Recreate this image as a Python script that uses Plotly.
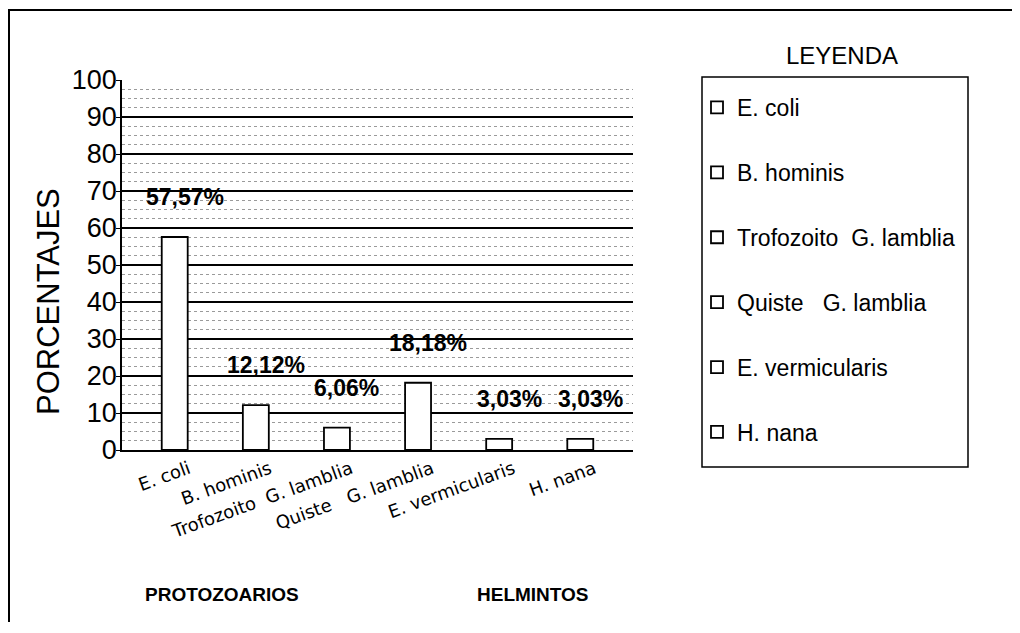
import plotly.graph_objects as go

categories = ["E. coli", "B. hominis", "Trofozoito  G. lamblia", "Quiste   G. lamblia", "E. vermicularis", "H. nana"]
tick_labels = ["E. coli", "B. hominis", "Trofozoito  G. lamblia", "Quiste   G. lamblia", "E. vermicularis", "H. nana"]
values = [57.57, 12.12, 6.06, 18.18, 3.03, 3.03]
y_ticks = [0, 10, 20, 30, 40, 50, 60, 70, 80, 90, 100]
group_labels = ["PROTOZOARIOS", "HELMINTOS"]

# page offset caused by the default body margin of the html page
OX, OY = 8, 8
W, H = 1020 - OX, 633 - OY
L = 122 - OX
T = 80 - OY
R = W - (633 - OX)
B = H - (450 - OY)
PW, PH = W - L - R, H - T - B

def px(x):
    return (x - OX - L) / PW

def py(y):
    return (H - B - (y - OY)) / PH

fig = go.Figure()
for i, (c, v) in enumerate(zip(categories, values)):
    fig.add_trace(go.Bar(
        x=[i], y=[v], name=c, width=0.32,
        marker=dict(color="white", line=dict(color="black", width=1.8)),
        legendgroup=f"g{i}", showlegend=True,
    ))

for i, v in enumerate(values):
    fig.add_annotation(x=i, y=v, text="<b>" + f"{v:.2f}".replace(".", ",") + "%</b>",
                       showarrow=False, yshift=40, xshift=10,
                       font=dict(family="Liberation Sans, Arial", size=23, color="black"))

fig.update_layout(
    width=W, height=H,
    margin=dict(l=L, r=R, t=T, b=B),
    paper_bgcolor="white", plot_bgcolor="white",
    barmode="overlay",
    showlegend=True,
    legend=dict(
        x=px(697), y=py(86), xanchor="left", yanchor="top",
        borderwidth=0, bgcolor="rgba(0,0,0,0)",
        font=dict(family="Liberation Sans, Arial", size=23, color="black"),
        tracegroupgap=32, itemwidth=30, maxheight=600,
    ),
    font=dict(family="Liberation Sans, Arial", color="black"),
    xaxis=dict(
        range=[-0.65, 5.65], tickmode="array", tickvals=list(range(len(categories))),
        ticktext=tick_labels, tickangle=-20, showgrid=False, zeroline=False,
        showline=True, linecolor="black", linewidth=1.5, ticks="",
        ticklabelshift=14,
        tickfont=dict(family="DejaVu Sans", size=18, color="black"),
    ),
    yaxis=dict(
        range=[0, 100], tickmode="array", tickvals=y_ticks,
        showline=True, linecolor="black", linewidth=1.5, ticks="outside", ticklen=4,
        tickcolor="black", ticklabelstandoff=-6,
        showgrid=True, gridcolor="black", gridwidth=1.5, zeroline=False,
        minor=dict(dtick=2.5, showgrid=True, gridcolor="#9a9a9a", griddash="dot", gridwidth=1),
        tickfont=dict(family="Liberation Sans, Arial", size=27, color="black"),
    ),
)

def label(x, y, text, size, angle=0):
    fig.add_annotation(xref="paper", yref="paper", x=px(x), y=py(y), text=text, showarrow=False,
                       xanchor="center", yanchor="middle", textangle=angle,
                       font=dict(family="Liberation Sans, Arial", size=size, color="black"))

label(48, 302, "PORCENTAJES", 31, -90)
label(842, 55, "LEYENDA", 24)
label(222, 594, "<b>" + group_labels[0] + "</b>", 19)
label(533, 594, "<b>" + group_labels[1] + "</b>", 19)

# legend box
fig.add_shape(type="rect", xref="paper", yref="paper", x0=px(702), x1=px(968), y0=py(77), y1=py(467),
              line=dict(color="black", width=1.5), fillcolor="rgba(0,0,0,0)")
# outer frame (top and left)
fig.add_shape(type="line", xref="paper", yref="paper", x0=px(8), x1=px(1020), y0=py(10), y1=py(10),
              line=dict(color="black", width=2))
fig.add_shape(type="line", xref="paper", yref="paper", x0=px(9), x1=px(9), y0=py(10), y1=py(622),
              line=dict(color="black", width=2))

fig.write_html("out.html")
